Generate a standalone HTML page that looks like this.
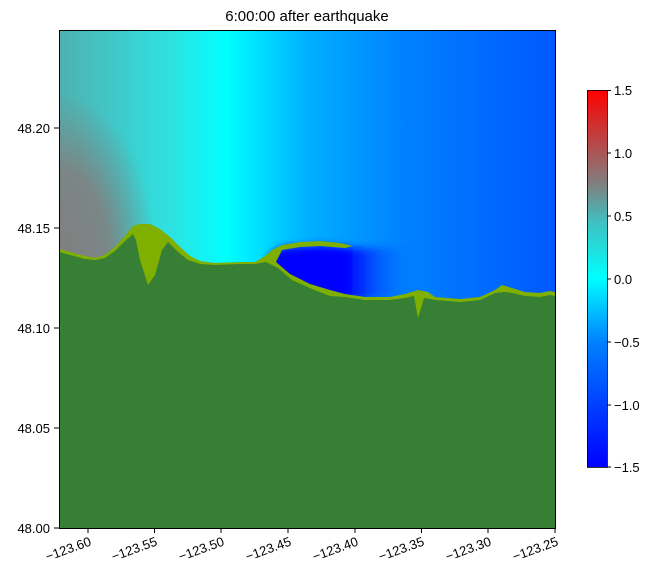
<!DOCTYPE html>
<html><head><style>
body{margin:0;background:#fff;width:658px;height:581px;overflow:hidden;font-family:"Liberation Sans",sans-serif}
</style></head><body>
<svg width="658" height="581" xmlns="http://www.w3.org/2000/svg" font-family="Liberation Sans, sans-serif" font-size="13">
<defs>
<linearGradient id="h" x1="59" x2="555" y1="0" y2="0" gradientUnits="userSpaceOnUse">
<stop offset="0" stop-color="#50b0b0"/>
<stop offset="0.22" stop-color="#30e0e0"/>
<stop offset="0.34" stop-color="#00ffff"/>
<stop offset="0.5" stop-color="#00b0ff"/>
<stop offset="0.7" stop-color="#0080ff"/>
<stop offset="1" stop-color="#0058ff"/>
</linearGradient>
<radialGradient id="g" cx="59" cy="250" r="120" gradientUnits="userSpaceOnUse" gradientTransform="translate(59 250) scale(0.8 1.3) translate(-59 -250)">
<stop offset="0" stop-color="#808080" stop-opacity="1"/>
<stop offset="0.5" stop-color="#808080" stop-opacity="0.9"/>
<stop offset="1" stop-color="#808080" stop-opacity="0"/>
</radialGradient>
<linearGradient id="b" x1="270" x2="410" y1="0" y2="0" gradientUnits="userSpaceOnUse">
<stop offset="0" stop-color="#0000ff"/>
<stop offset="0.55" stop-color="#0000ff"/>
<stop offset="1" stop-color="#0050ff" stop-opacity="0"/>
</linearGradient>
<filter id="bl" x="-20%" y="-50%" width="140%" height="200%"><feGaussianBlur stdDeviation="4"/></filter>
<linearGradient id="cb" x1="0" x2="0" y1="1" y2="0">
<stop offset="0" stop-color="#0000ff"/>
<stop offset="0.33" stop-color="#0080ff"/>
<stop offset="0.5" stop-color="#00ffff"/>
<stop offset="0.65" stop-color="#40c0c0"/>
<stop offset="0.75" stop-color="#808080"/>
<stop offset="1" stop-color="#ff0000"/>
</linearGradient>
<clipPath id="c"><rect x="59" y="30" width="496" height="498"/></clipPath>
</defs>
<text x="307" y="21" text-anchor="middle" font-size="15">6:00:00 after earthquake</text>
<g clip-path="url(#c)">
<rect x="59" y="30" width="496" height="498" fill="url(#h)"/>
<rect x="59" y="30" width="496" height="498" fill="url(#g)"/>
<polygon fill="url(#b)" filter="url(#bl)" points="268,256 282,247 300,246 320,245 345,247 352,248 555,248 555,300 270,300"/>
<polygon fill="#7fb000" points="59,249 70,252 85,256 95,258 105,255 115,247 125,236 133,226 140,224 150,224 160,229 170,237 180,247 190,256 200,261 215,263 240,262 255,262 265,256 272,250 282,245 300,242 320,241 340,243 353,246 345,248 320,246 300,247 282,250 276,262 290,274 310,284 330,290 345,294 365,297 390,297 405,294 418,290 428,292 435,297 460,299 480,297 495,290 502,285 512,288 525,292 540,293 550,291 555,292 555,528 59,528"/>
<polygon fill="#367f34" points="59,252 70,255 85,259 95,260 105,258 115,251 125,241 133,234 136,240 140,260 148,285 155,275 162,250 168,242 178,252 188,260 200,264 215,265 240,264 255,264 266,262 278,268 292,280 312,289 330,296 345,297 365,300 390,300 405,298 414,296 418,318 424,298 435,300 460,302 480,300 495,293 505,292 512,293 525,296 540,297 550,295 555,296 555,528 59,528"/>
</g>
<rect x="59.5" y="30.5" width="496" height="498" fill="none" stroke="#000" stroke-width="1"/>
<g stroke="#000">
<line x1="88" y1="528" x2="88" y2="533"/><line x1="154.5" y1="528" x2="154.5" y2="533"/><line x1="221" y1="528" x2="221" y2="533"/><line x1="288" y1="528" x2="288" y2="533"/><line x1="355" y1="528" x2="355" y2="533"/><line x1="421.5" y1="528" x2="421.5" y2="533"/><line x1="488" y1="528" x2="488" y2="533"/><line x1="555" y1="528" x2="555" y2="533"/>
<line x1="54" y1="528" x2="59" y2="528"/><line x1="54" y1="428" x2="59" y2="428"/><line x1="54" y1="328" x2="59" y2="328"/><line x1="54" y1="228" x2="59" y2="228"/><line x1="54" y1="128" x2="59" y2="128"/>
</g>
<g text-anchor="end">
<text x="50" y="533">48.00</text><text x="50" y="433">48.05</text><text x="50" y="333">48.10</text><text x="50" y="233">48.15</text><text x="50" y="133">48.20</text>
</g>
<g text-anchor="end">
<text transform="translate(92,545) rotate(-20)">−123.60</text>
<text transform="translate(158,545) rotate(-20)">−123.55</text>
<text transform="translate(225,545) rotate(-20)">−123.50</text>
<text transform="translate(292,545) rotate(-20)">−123.45</text>
<text transform="translate(359,545) rotate(-20)">−123.40</text>
<text transform="translate(425,545) rotate(-20)">−123.35</text>
<text transform="translate(492,545) rotate(-20)">−123.30</text>
<text transform="translate(559,545) rotate(-20)">−123.25</text>
</g>
<rect x="587" y="90" width="20" height="377" fill="url(#cb)"/>
<rect x="587.5" y="90.5" width="20" height="377" fill="none" stroke="#000" stroke-width="0.8"/>
<g stroke="#000"><line x1="607" y1="90.5" x2="611" y2="90.5"/><line x1="607" y1="153" x2="611" y2="153"/><line x1="607" y1="216" x2="611" y2="216"/><line x1="607" y1="279" x2="611" y2="279"/><line x1="607" y1="342" x2="611" y2="342"/><line x1="607" y1="405" x2="611" y2="405"/><line x1="607" y1="467" x2="611" y2="467"/></g>
<g>
<text x="614" y="95">1.5</text><text x="614" y="158">1.0</text><text x="614" y="221">0.5</text><text x="614" y="284">0.0</text><text x="614" y="347">−0.5</text><text x="614" y="410">−1.0</text><text x="614" y="472">−1.5</text>
</g>
</svg>
</body></html>
